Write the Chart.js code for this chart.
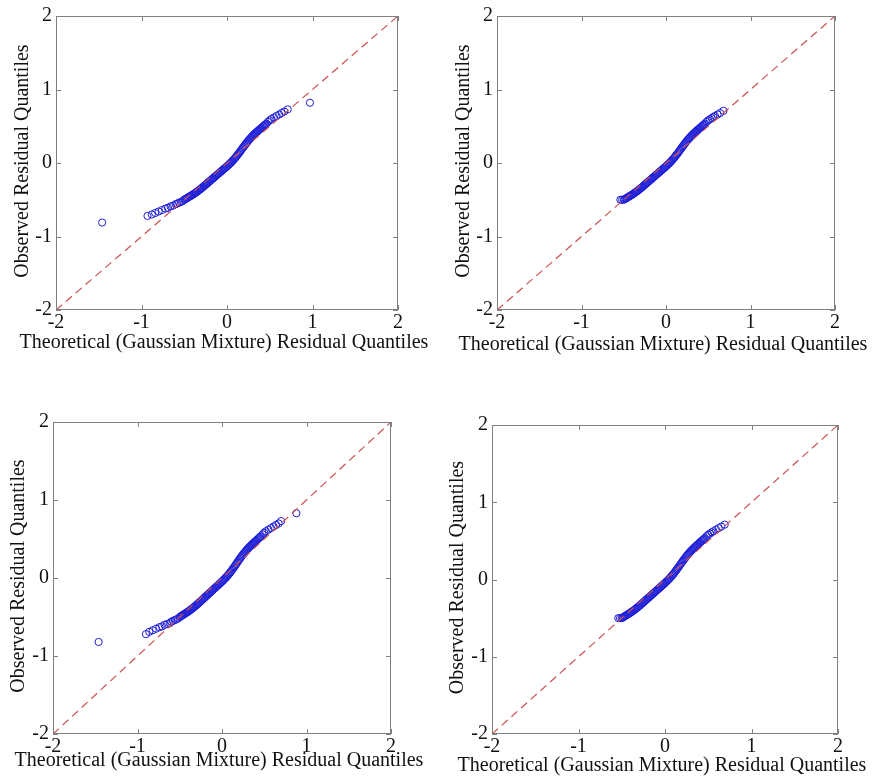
<!DOCTYPE html>
<html lang="en">
<head>
<meta charset="UTF-8" />
<title>Residual QQ plots</title>
<script src="https://cdn.jsdelivr.net/npm/chart.js@4.4.1/dist/chart.umd.min.js"></script>
<style>
  body { margin: 0; background: #fff; width: 876px; height: 784px; position: relative; overflow: hidden; }
  canvas { position: absolute; }
</style>
</head>
<body>
<canvas id="p1" width="440" height="360" style="left:0;top:0"></canvas>
<canvas id="p2" width="436" height="360" style="left:440px;top:0"></canvas>
<canvas id="p3" width="440" height="384" style="left:0;top:400px"></canvas>
<canvas id="p4" width="436" height="384" style="left:440px;top:400px"></canvas>
<script>
// axis ticks and reference line ends
const tickValues = [-2, -1, 0, 1, 2]
const refLine = [-2, 2]
const xTitle = 'Theoretical (Gaussian Mixture) Residual Quantiles'
const yTitle = 'Observed Residual Quantiles'

// dense middle of every panel (theoretical, observed)
const bandX = [
  -0.50,-0.49,-0.48,-0.47,-0.46,-0.45,-0.44,-0.43,-0.42,-0.41,
  -0.40,-0.39,-0.38,-0.37,-0.36,-0.35,-0.34,-0.33,-0.32,-0.31,
  -0.30,-0.29,-0.28,-0.27,-0.26,-0.25,-0.24,-0.23,-0.22,-0.21,
  -0.20,-0.19,-0.18,-0.17,-0.16,-0.15,-0.14,-0.13,-0.12,-0.11,
  -0.10,-0.09,-0.08,-0.07,-0.06,-0.05,-0.04,-0.03,-0.02,-0.01,
  0.00,0.01,0.02,0.03,0.04,0.05,0.06,0.07,0.08,0.09,
  0.10,0.11,0.12,0.13,0.14,0.15,0.16,0.17,0.18,0.19,
  0.20,0.21,0.22,0.23,0.24,0.25,0.26,0.27,0.28,0.29,
  0.30,0.31,0.32,0.33,0.34,0.35,0.36,0.37,0.38,0.39,
  0.40,0.41,0.42,0.43,0.44,0.45,0.46]
const bandY = [
  -0.500,-0.493,-0.486,-0.479,-0.472,-0.465,-0.458,-0.451,-0.444,-0.437,
  -0.430,-0.422,-0.414,-0.406,-0.398,-0.390,-0.381,-0.372,-0.363,-0.354,
  -0.345,-0.335,-0.325,-0.315,-0.305,-0.295,-0.285,-0.275,-0.265,-0.255,
  -0.245,-0.235,-0.225,-0.215,-0.205,-0.195,-0.185,-0.175,-0.165,-0.155,
  -0.145,-0.135,-0.125,-0.115,-0.105,-0.095,-0.085,-0.075,-0.065,-0.055,
  -0.045,-0.034,-0.023,-0.012,-0.001,0.010,0.023,0.036,0.049,0.062,
  0.075,0.090,0.105,0.120,0.135,0.150,0.166,0.182,0.198,0.214,
  0.230,0.245,0.260,0.275,0.290,0.305,0.318,0.331,0.344,0.357,
  0.370,0.381,0.392,0.403,0.414,0.425,0.435,0.445,0.455,0.465,
  0.475,0.485,0.495,0.505,0.515,0.525,0.535]

// tails, one pair per panel
const tailX1 = [-1.46,-0.93,-0.88,-0.84,-0.80,-0.76,-0.72,-0.69,-0.66,-0.63,-0.60,-0.58,-0.56,-0.54,-0.52,0.48,0.50,0.52,0.55,0.58,0.61,0.64,0.67,0.71,0.97]
const tailY1 = [-0.81,-0.72,-0.70,-0.68,-0.66,-0.64,-0.62,-0.61,-0.59,-0.58,-0.56,-0.55,-0.54,-0.53,-0.52,0.56,0.58,0.60,0.62,0.64,0.66,0.68,0.70,0.73,0.82]
const tailX2 = [-0.54,-0.52,0.48,0.50,0.52,0.54,0.56,0.58,0.61,0.64,0.68]
const tailY2 = [-0.50,-0.50,0.56,0.58,0.595,0.61,0.625,0.64,0.66,0.68,0.71]
const tailX3 = [-1.46,-0.90,-0.86,-0.82,-0.78,-0.74,-0.71,-0.68,-0.65,-0.62,-0.60,-0.58,-0.56,-0.54,-0.52,0.48,0.50,0.52,0.55,0.58,0.61,0.64,0.67,0.70,0.88]
const tailY3 = [-0.82,-0.72,-0.69,-0.67,-0.65,-0.63,-0.62,-0.60,-0.59,-0.58,-0.56,-0.55,-0.54,-0.53,-0.52,0.56,0.58,0.60,0.62,0.64,0.66,0.68,0.70,0.73,0.83]
const tailX4 = [-0.54,-0.52,0.48,0.50,0.52,0.54,0.56,0.59,0.62,0.65,0.69]
const tailY4 = [-0.50,-0.50,0.56,0.58,0.595,0.61,0.625,0.645,0.665,0.685,0.71]

const zip = (xs, ys) => xs.map((x, i) => ({ x, y: ys[i] }))

// layout per canvas: y-axis width, right/top padding, title baselines
const panels = [
  { id: 'p1', tx: tailX1, ty: tailY1, yw: 56, right: 42, top: 15, yBase: 28, xBase: 348 },
  { id: 'p2', tx: tailX2, ty: tailY2, yw: 57, right: 41, top: 14, yBase: 29, xBase: 350 },
  { id: 'p3', tx: tailX3, ty: tailY3, yw: 53, right: 49, top: 22, yBase: 24, xBase: 366 },
  { id: 'p4', tx: tailX4, ty: tailY4, yw: 52, right: 38, top: 25, yBase: 23, xBase: 371 },
]

const serif = '"Liberation Serif", "Times New Roman", serif'

// MATLAB style box with inward ticks on all four sides, plus axis titles
const boxPlugin = {
  id: 'matlabBox',
  afterDatasetsDraw(chart) {
    const { ctx, chartArea: a, scales: { x, y } } = chart
    ctx.save()
    ctx.strokeStyle = '#808080'
    ctx.lineWidth = 1
    ctx.strokeRect(Math.round(a.left) + 0.5, Math.round(a.top) + 0.5, Math.round(a.width) - 1, Math.round(a.height) - 1)
    ctx.beginPath()
    for (const t of tickValues) {
      const px = Math.round(x.getPixelForValue(t)) + 0.5
      ctx.moveTo(px, a.bottom); ctx.lineTo(px, a.bottom - 5)
      ctx.moveTo(px, a.top); ctx.lineTo(px, a.top + 5)
      const py = Math.round(y.getPixelForValue(t)) + 0.5
      ctx.moveTo(a.left, py); ctx.lineTo(a.left + 5, py)
      ctx.moveTo(a.right, py); ctx.lineTo(a.right - 5, py)
    }
    ctx.stroke()
    ctx.restore()
  },
  afterDraw(chart, args, opts) {
    const { ctx, chartArea: a } = chart
    ctx.save()
    ctx.fillStyle = '#111'
    ctx.font = '20px ' + serif
    ctx.textAlign = 'center'
    ctx.textBaseline = 'alphabetic'
    ctx.fillText(xTitle, (a.left + a.right) / 2 - 3, opts.xBase)
    ctx.translate(opts.yBase, (a.top + a.bottom) / 2 - 2)
    ctx.rotate(-Math.PI / 2)
    ctx.fillText(yTitle, 0, 0)
    ctx.restore()
  },
}

for (const p of panels) {
  const points = zip(bandX, bandY).concat(zip(p.tx, p.ty))
  new Chart(document.getElementById(p.id), {
    type: 'scatter',
    data: {
      datasets: [
        {
          data: zip(refLine, refLine),
          showLine: true,
          borderColor: 'rgb(205,80,80)',
          borderWidth: 1.2,
          borderDash: [8, 5],
          pointRadius: 0,
        },
        {
          data: points,
          pointRadius: 3.6,
          pointBorderWidth: 1,
          borderColor: 'rgb(30,30,215)',
          backgroundColor: 'rgba(0,0,0,0)',
        },
      ],
    },
    options: {
      responsive: false,
      animation: false,
      layout: { padding: { left: 0, bottom: 0, top: p.top, right: p.right } },
      plugins: {
        legend: { display: false },
        tooltip: { enabled: false },
        matlabBox: { xBase: p.xBase, yBase: p.yBase },
      },
      scales: {
        x: {
          type: 'linear', min: -2, max: 2,
          grid: { display: false, drawTicks: false },
          border: { display: false },
          ticks: { stepSize: 1, padding: 1, maxRotation: 0, color: '#111', font: { family: serif, size: 20, lineHeight: 1.2 } },
          afterFit(scale) { scale.height = 50 },
        },
        y: {
          type: 'linear', min: -2, max: 2,
          grid: { display: false, drawTicks: false },
          border: { display: false },
          ticks: { stepSize: 1, padding: 4, color: '#111', font: { family: serif, size: 20, lineHeight: 1.2 } },
          afterFit(scale) { scale.width = p.yw },
        },
      },
    },
    plugins: [boxPlugin],
  })
}
</script>
</body>
</html>
